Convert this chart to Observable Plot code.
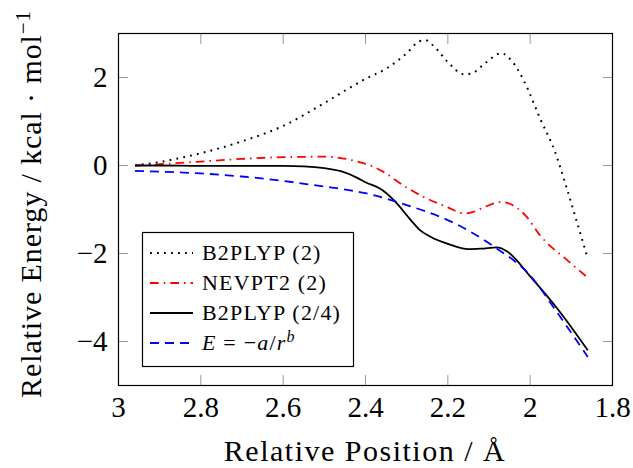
<!DOCTYPE html>
<html><head><meta charset="utf-8">
<script src="https://cdn.jsdelivr.net/npm/d3@7"></script>
<script src="https://cdn.jsdelivr.net/npm/@observablehq/plot@0.6"></script>
<style>
body{margin:0;background:#fff;}
#chart{position:relative;width:633px;height:468px;}
</style></head><body><div id="chart"></div>
<script>
// ---- data ----
const seriesNames = ["B2PLYP (2)", "NEVPT2 (2)", "B2PLYP (2/4)", "E = −a/r^b"];

const b2plyp2X = [2.96, 2.90, 2.80, 2.70, 2.60, 2.50, 2.45, 2.40, 2.35, 2.30, 2.27, 2.255, 2.235, 2.20, 2.16, 2.14, 2.11, 2.07, 2.045, 2.015, 1.975, 1.94, 1.91, 1.89, 1.86];
const b2plyp2Y = [0, 0.08, 0.28, 0.55, 0.90, 1.42, 1.70, 1.97, 2.20, 2.55, 2.82, 2.85, 2.72, 2.35, 2.07, 2.10, 2.32, 2.55, 2.38, 1.92, 1.05, 0.32, -0.55, -1.17, -2.12];

const nevpt2X = [2.96, 2.90, 2.80, 2.70, 2.60, 2.50, 2.46, 2.42, 2.38, 2.35, 2.315, 2.26, 2.20, 2.16, 2.14, 2.11, 2.07, 2.05, 2.01, 1.975, 1.91, 1.86];
const nevpt2Y = [0, 0.03, 0.09, 0.15, 0.19, 0.20, 0.17, 0.09, -0.03, -0.18, -0.41, -0.71, -0.95, -1.09, -1.06, -0.94, -0.83, -0.87, -1.15, -1.60, -2.15, -2.55];

const b2plyp24X = [2.96, 2.90, 2.80, 2.70, 2.60, 2.55, 2.50, 2.46, 2.42, 2.40, 2.36, 2.33, 2.29, 2.27, 2.24, 2.20, 2.15, 2.12, 2.08, 2.055, 2.00, 1.93, 1.86];
const b2plyp24Y = [0, 0, -0.01, -0.01, -0.01, -0.02, -0.06, -0.13, -0.28, -0.38, -0.55, -0.80, -1.24, -1.45, -1.63, -1.78, -1.90, -1.89, -1.86, -1.96, -2.52, -3.30, -4.20];

const fitX = [2.96, 2.90, 2.80, 2.70, 2.60, 2.50, 2.46, 2.40, 2.30, 2.21, 2.18, 2.09, 2.00, 1.93, 1.86];
const fitY = [-0.12, -0.14, -0.18, -0.25, -0.35, -0.48, -0.53, -0.63, -0.90, -1.20, -1.33, -1.83, -2.50, -3.40, -4.35];

const xTicks = [3, 2.8, 2.6, 2.4, 2.2, 2, 1.8];
const xTickLabels = ["3", "2.8", "2.6", "2.4", "2.2", "2", "1.8"];
const yTicks = [-4, -2, 0, 2];
const yTickLabels = ["−4", "−2", "0", "2"];

// ---- styles (separate from data) ----
const seriesStyle = [
  {stroke: "black", dash: "1.8,5.2", width: 2},
  {stroke: "#ff0000", dash: "8.7,5,1.6,5", width: 1.8},
  {stroke: "black", dash: null, width: 1.8},
  {stroke: "#0000ff", dash: "9,6", width: 1.8}
];

const seriesXY = [[b2plyp2X, b2plyp2Y], [nevpt2X, nevpt2Y], [b2plyp24X, b2plyp24Y], [fitX, fitY]];
const seriesRows = seriesXY.map(([xs, ys]) => xs.map((x, i) => ({x, y: ys[i]})));

const FONT = "'Liberation Serif', 'Times New Roman', serif";

const lineMarks = seriesRows.map((rows, k) => Plot.line(rows, {
  x: "x", y: "y", curve: "monotone-x",
  stroke: seriesStyle[k].stroke,
  strokeWidth: seriesStyle[k].width,
  strokeDasharray: seriesStyle[k].dash ?? undefined,
  strokeLinecap: "butt"
}));

const xFmt = d => xTickLabels[xTicks.indexOf(d)];
const yFmt = d => yTickLabels[yTicks.indexOf(d)];

const plot = Plot.plot({
  width: 633, height: 468,
  marginLeft: 118, marginRight: 21, marginTop: 33, marginBottom: 83,
  style: {fontFamily: FONT, fontSize: "29px", background: "white", color: "black"},
  x: {domain: [3, 1.8]},
  y: {domain: [-5, 3]},
  marks: [
    ...lineMarks,
    Plot.axisX(xTicks, {anchor: "bottom", tickSize: -10, tickPadding: 21, stroke: "#999", tickFormat: xFmt, label: null, fontSize: 29}),
    Plot.axisX(xTicks, {anchor: "top", tickSize: -10, stroke: "#999", tickFormat: () => "", label: null}),
    Plot.axisY(yTicks, {anchor: "left", tickSize: -10, tickPadding: 21, stroke: "#999", tickFormat: yFmt, label: null, fontSize: 29}),
    Plot.axisY(yTicks, {anchor: "right", tickSize: -10, stroke: "#999", tickFormat: () => "", label: null}),
    Plot.frame({stroke: "black", strokeWidth: 1.2})
  ]
});

document.getElementById("chart").appendChild(plot);

// ---- axis labels & legend ----
const svg = d3.select(plot);

svg.append("text")
  .attr("x", 365).attr("y", 461)
  .attr("text-anchor", "middle")
  .style("font-family", FONT).style("font-size", "30px").style("letter-spacing", "1.5px")
  .attr("fill", "black")
  .text("Relative Position / Å");

const yl = svg.append("text")
  .attr("transform", "translate(41,204) rotate(-90)")
  .attr("text-anchor", "middle")
  .style("font-family", FONT).style("font-size", "30px").style("letter-spacing", "0.9px")
  .attr("fill", "black");
yl.append("tspan").text("Relative Energy / kcal · mol");
yl.append("tspan").attr("dy", "-11").style("font-size", "21px").text("−1");

const lg = svg.append("g");
lg.append("rect").attr("x", 142.5).attr("y", 232.5).attr("width", 211).attr("height", 134)
  .attr("fill", "white").attr("stroke", "black").attr("stroke-width", 1.2);

seriesNames.forEach((name, k) => {
  const cy = 253 + k * 30;
  const st = seriesStyle[k];
  lg.append("line").attr("x1", 150).attr("x2", 193).attr("y1", cy).attr("y2", cy)
    .attr("stroke", st.stroke).attr("stroke-width", st.width)
    .attr("stroke-dasharray", st.dash);
  const t = lg.append("text").attr("x", 202).attr("y", cy + 7)
    .attr("text-anchor", "start")
    .style("font-family", FONT).style("font-size", "22px").style("letter-spacing", "1.2px")
    .attr("fill", "black");
  if (name.startsWith("E =")) {
    t.append("tspan").style("font-style", "italic").text("E");
    t.append("tspan").text(" = −");
    t.append("tspan").style("font-style", "italic").text("a");
    t.append("tspan").text("/");
    t.append("tspan").style("font-style", "italic").text("r");
    t.append("tspan").attr("dy", "-8").style("font-size", "16px").style("font-style", "italic").text("b");
  } else {
    t.text(name);
  }
});
</script>
</body></html>
